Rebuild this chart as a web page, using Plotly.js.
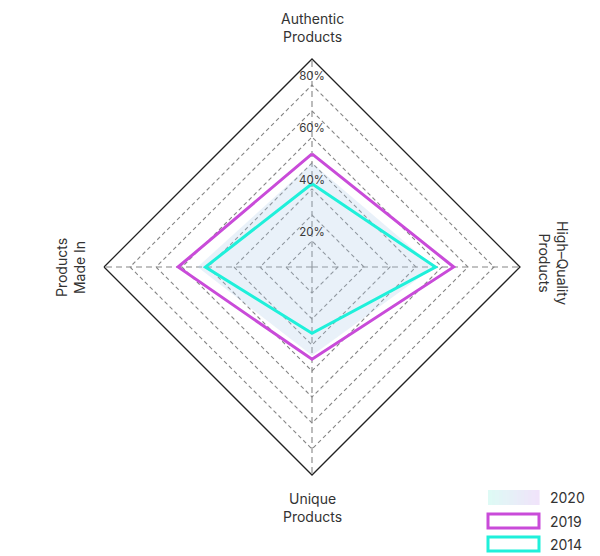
<!DOCTYPE html>
<html>
<head>
<meta charset="utf-8">
<script src="https://cdn.plot.ly/plotly-3.0.1.min.js"></script>
<style>html,body{margin:0;padding:0;background:#fff;}#chart{width:600px;height:556px;}</style>
</head>
<body>
<div id="chart"></div>
<script>
const categories = ["Authentic Products", "High-Quality Products", "Unique Products", "Products Made In"];
const categoryLabels = ["Authentic<br>Products", "High–Quality<br>Products", "Unique<br>Products", "Products<br>Made In"];
const series2020 = [40, 47, 34, 44];
const series2019 = [43.5, 54.5, 35.5, 51.5];
const series2014 = [32, 47.5, 25.5, 41];
const seriesNames = ["2020", "2019", "2014"];
const radialTicks = [10, 20, 30, 40, 50, 60, 70, 80];
const radialLabelValues = [20, 40, 60, 80];
const radialLabelText = ["20%", "40%", "60%", "80%"];

const FONT = "Inter, 'DejaVu Sans', sans-serif";
const MAGENTA = "#c94bd9";
const CYAN = "#1ff0da";

function closed(arr) { return arr.concat([arr[0]]); }
const thetaClosed = closed(categories);

const traces = [
  {
    type: "scatterpolar", name: seriesNames[0],
    r: closed(series2020), theta: thetaClosed,
    mode: "lines", fill: "toself",
    line: {width: 0, color: "rgba(0,0,0,0)"},
    fillcolor: "rgba(175,205,235,0.28)",
    hoverinfo: "skip", showlegend: false
  },
  {
    type: "scatterpolar", name: seriesNames[1],
    r: closed(series2019), theta: thetaClosed,
    mode: "lines", line: {color: MAGENTA, width: 3},
    hoverinfo: "skip", showlegend: false
  },
  {
    type: "scatterpolar", name: seriesNames[2],
    r: closed(series2014), theta: thetaClosed,
    mode: "lines", line: {color: CYAN, width: 3},
    hoverinfo: "skip", showlegend: false
  },
  {
    type: "scatterpolar", name: "ticks",
    r: radialLabelValues, theta: radialLabelValues.map(() => categories[0]),
    mode: "markers+text", text: radialLabelText, textposition: "bottom center",
    marker: {size: 18, opacity: 0},
    textfont: {family: FONT, size: 11.5, color: "#3a3a3a"},
    hoverinfo: "skip", showlegend: false
  }
];

// legend swatches (paper coordinates)
const shapes = [];
const sx0 = 488 / 600, sx1 = 539 / 600;
const steps = 14;
for (let i = 0; i < steps; i++) {
  const t = i / (steps - 1);
  const r = Math.round(222 + (240 - 222) * t);
  const g = Math.round(250 + (228 - 250) * t);
  const b = Math.round(245 + (250 - 245) * t);
  shapes.push({type: "rect", xref: "paper", yref: "paper",
    x0: sx0 + (sx1 - sx0) * i / steps, x1: sx0 + (sx1 - sx0) * (i + 1) / steps + 0.001,
    y0: 1 - 505 / 556, y1: 1 - 490 / 556,
    fillcolor: `rgb(${r},${g},${b})`, line: {width: 0}, layer: "above"});
}
shapes.push({type: "rect", xref: "paper", yref: "paper", x0: sx0, x1: sx1,
  y0: 1 - 528 / 556, y1: 1 - 514 / 556, fillcolor: "rgba(0,0,0,0)", line: {color: MAGENTA, width: 3}});
shapes.push({type: "rect", xref: "paper", yref: "paper", x0: sx0, x1: sx1,
  y0: 1 - 551 / 556, y1: 1 - 537 / 556, fillcolor: "rgba(0,0,0,0)", line: {color: CYAN, width: 3}});

const annFont = {family: FONT, size: 14, color: "#333"};
const annotations = [
  {text: categoryLabels[0], x: 313 / 600, y: 1 - 27 / 556, textangle: 0},
  {text: categoryLabels[1], x: 553 / 600, y: 1 - 263 / 556, textangle: 90},
  {text: categoryLabels[2], x: 313 / 600, y: 1 - 507 / 556, textangle: 0},
  {text: categoryLabels[3], x: 70 / 600, y: 1 - 268 / 556, textangle: -90},
  {text: seriesNames[0], x: 548 / 600, y: 1 - 497 / 556, xanchor: "left", textangle: 0},
  {text: seriesNames[1], x: 548 / 600, y: 1 - 521 / 556, xanchor: "left", textangle: 0},
  {text: seriesNames[2], x: 548 / 600, y: 1 - 544 / 556, xanchor: "left", textangle: 0}
].map(a => Object.assign({xref: "paper", yref: "paper", showarrow: false, font: annFont, xanchor: "center", yanchor: "middle"}, a));

const layout = {
  width: 600, height: 556,
  margin: {l: 0, r: 0, t: 0, b: 0},
  paper_bgcolor: "#fff",
  showlegend: false,
  font: {family: FONT},
  polar: {
    domain: {x: [104 / 600, 520 / 600], y: [1 - 475 / 556, 1 - 59 / 556]},
    bgcolor: "rgba(0,0,0,0)",
    gridshape: "linear",
    radialaxis: {
      range: [0, 80], tickvals: radialTicks, showticklabels: false,
      ticks: "", showline: false, angle: 90,
      gridcolor: "#858585", gridwidth: 1.1, griddash: "4px,3px"
    },
    angularaxis: {
      type: "category", categoryorder: "array", categoryarray: categories,
      rotation: 90, direction: "clockwise",
      showticklabels: false, ticks: "",
      showline: true, linecolor: "#222", linewidth: 1.3,
      gridcolor: "#858585", gridwidth: 1.1, griddash: "6px,4px"
    }
  },
  shapes: shapes,
  annotations: annotations
};

Plotly.newPlot("chart", traces, layout, {displayModeBar: false, staticPlot: true});
</script>
</body>
</html>
